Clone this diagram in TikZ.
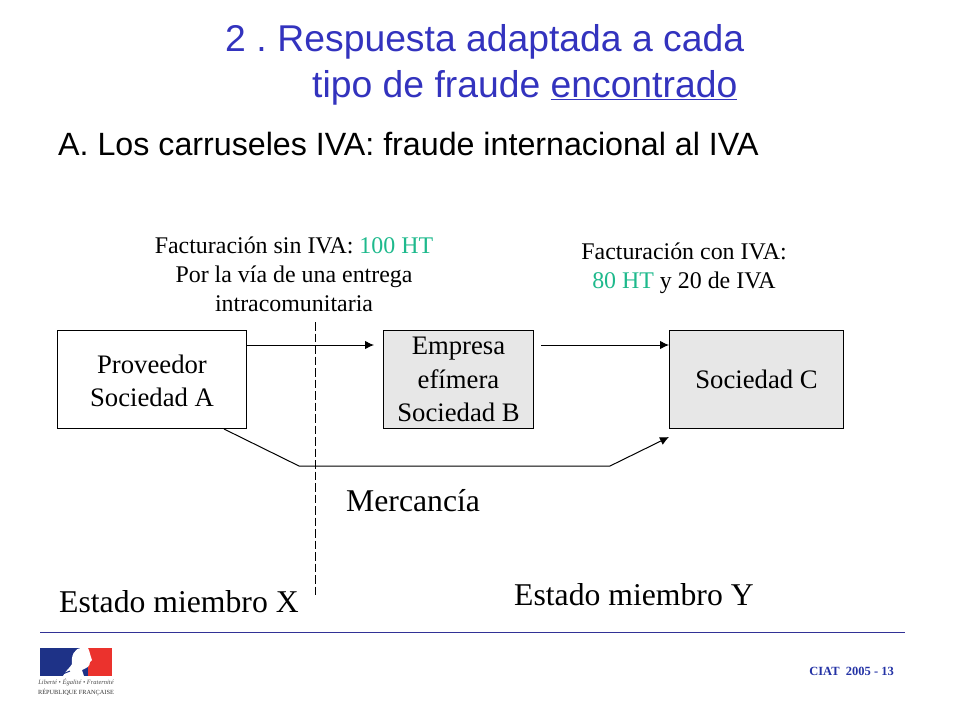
\documentclass[tikz,border=0pt]{standalone}
\usepackage{fontspec}
\setmainfont{Liberation Serif}
\newfontfamily\arialf{Liberation Sans}
\usetikzlibrary{arrows.meta}
\definecolor{tealtxt}{RGB}{30,185,140}
\definecolor{boxgray}{RGB}{231,231,231}
\definecolor{rulecol}{RGB}{50,50,150}
\definecolor{titlecol}{RGB}{51,51,190}
\definecolor{ciatcol}{RGB}{35,50,165}
\definecolor{flagblue}{RGB}{30,50,135}
\definecolor{flagred}{RGB}{235,50,45}
\tikzset{
  box/.style={draw=black,line width=1pt,inner sep=0pt,align=center,font=\fontsize{26.7}{32.5}\selectfont},
  title/.style={anchor=base west,inner sep=0pt,text=titlecol,font=\arialf\fontsize{37.3}{37.3}\selectfont},
  subtitle/.style={anchor=base west,inner sep=0pt,font=\arialf\fontsize{32.2}{32.2}\selectfont},
  small/.style={anchor=base,inner sep=0pt,font=\fontsize{23.9}{24}\selectfont},
  big/.style={anchor=base west,inner sep=0pt,font=\fontsize{31.7}{32}\selectfont},
  conn/.style={draw=black,line width=1pt},
  arr/.style={conn,-{Latex[length=9pt,width=8.5pt]}}
}
\begin{document}
\begin{tikzpicture}[x=1pt,y=-1pt]
\useasboundingbox (0,0) rectangle (960,720);
\node[title] (t1) at (225,51) {2 .\hspace{-3pt} Respuesta adaptada a cada};
\node[title] (t2) at (312,97) {tipo de fraude \underline{encontrado}};
\node[subtitle] (t3) at (58,155) {A. Los carruseles IVA: fraude internacional al IVA};
\node[small] (l1) at (294,253) {Facturación sin IVA: \textcolor{tealtxt}{100 HT}};
\node[small] (l2) at (294,282) {Por la vía de una entrega};
\node[small] (l3) at (294,311) {intracomunitaria};
\node[small] (r1) at (684,259) {Facturación con IVA:};
\node[small] (r2) at (684,288) {\textcolor{tealtxt}{80 HT} y 20 de IVA};
\node[box,minimum width=189pt,minimum height=98pt,text depth=0pt] (a) at (152,379.5) {\raisebox{-1pt}{Proveedor}\\\raisebox{-1.5pt}{Sociedad A}};
\node[box,fill=boxgray,minimum width=150pt,minimum height=98pt] (b) at (458.5,379.5) {Empresa\\\raisebox{-1.5pt}{efímera}\\\raisebox{-1.5pt}{Sociedad B}};
\node[box,fill=boxgray,minimum width=174pt,minimum height=98pt] (c) at (756.5,379.5) {\raisebox{-1pt}{Sociedad C}};
\coordinate (ab1) at (247,345);
\coordinate (ab2) at (374,345);
\coordinate (bc1) at (541,345);
\coordinate (bc2) at (669,345);
\coordinate (m0) at (224,429);
\coordinate (m1) at (299,466);
\coordinate (m2) at (610,466);
\coordinate (m3) at (669,437);
\coordinate (d1) at (315,322);
\coordinate (d2) at (315,595);
\draw[arr] (ab1) -- (ab2);
\draw[arr] (bc1) -- (bc2);
\draw[arr] (m0) -- (m1) -- (m2) -- (m3);
\draw[conn,dash pattern=on 8.5pt off 3pt] (d1) -- (d2);
\node[big] (merc) at (346,511) {Mercancía};
\node[big] (x) at (59,612) {Estado miembro X};
\node[big] (y) at (514,605) {Estado miembro Y};
\coordinate (f1) at (40,632);
\coordinate (f2) at (905,632);
\draw[rulecol,line width=0.8pt] (f1) -- (f2);
\node[anchor=base east,inner sep=0pt,font=\bfseries\fontsize{12.5}{12.5}\selectfont,text=ciatcol] (ciat) at (894,675) {CIAT\ \ 2005 - 13};
% logo
\fill[flagblue] (40,648) rectangle (112,676);
\fill[flagred] (88,648) rectangle (112,676);
\fill[white] (63,676) .. controls (66,670) and (70,668) .. (72,664) .. controls (71,656) and (74,648) .. (82,648) -- (88,648) .. controls (90,652) and (90,655) .. (92,660) -- (90,662) .. controls (90,667) and (86,668) .. (82,670) -- (84,676) -- cycle;
\draw[flagblue,line width=1pt] (54,668) -- (64,663) (56,672) -- (68,667) (60,675) -- (70,671);
\node[anchor=base,inner sep=0pt,font=\itshape\fontsize{6.5}{6.5}\selectfont,text=black!70] (dev) at (76,684) {Liberté • Égalité • Fraternité};
\node[anchor=base,inner sep=0pt,font=\fontsize{6.3}{6.3}\selectfont,text=black!80] (rf) at (76,694) {RÉPUBLIQUE FRANÇAISE};
\end{tikzpicture}
\end{document}
